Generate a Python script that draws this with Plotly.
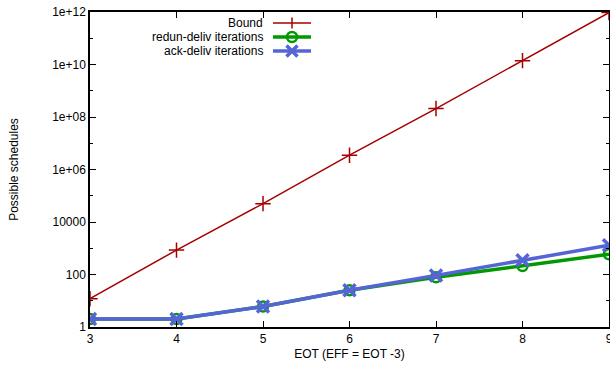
import plotly.graph_objects as go

eot = [3, 4, 5, 6, 7, 8, 9]
bound = [12, 850, 5.0e4, 3.5e6, 2.1e8, 1.4e10, 9.5e11]
redun = [2, 2, 6, 25, 78, 210, 590]
ack = [2, 2, 6, 25, 92, 350, 1300]

series_names = ["Bound", "redun-deliv iterations", "ack-deliv iterations"]
series_colors = ["#A50000", "#009A00", "#5565D5"]

y_tickvals = [1, 100, 1e4, 1e6, 1e8, 1e10, 1e12]
y_ticktext = ["1", "100", "10000", "1e+06", "1e+08", "1e+10", "1e+12"]
y_minor = [10, 1e3, 1e5, 1e7, 1e9, 1e11]
x_tickvals = [3, 4, 5, 6, 7, 8, 9]

font = "Liberation Sans, Arial, Helvetica, sans-serif"

W, H = 610, 368
ML, MR, MT, MB = 90, 1, 12, 41
PW, PH = W - ML - MR, H - MT - MB

def px(x):
    return (x - ML) / PW

def py(y):
    return (H - MB - y) / PH

fig = go.Figure()
fig.add_trace(go.Scatter(
    x=eot, y=bound, name=series_names[0], mode="lines+markers", showlegend=False,
    line=dict(color=series_colors[0], width=1.5),
    marker=dict(symbol="cross-thin", size=11, line=dict(color=series_colors[0], width=1.5)),
))
fig.add_trace(go.Scatter(
    x=eot, y=redun, name=series_names[1], mode="lines+markers", showlegend=False,
    line=dict(color=series_colors[1], width=3.5),
    marker=dict(symbol="circle-open", size=10, color=series_colors[1], line=dict(color=series_colors[1], width=2.5)),
))
fig.add_trace(go.Scatter(
    x=eot, y=ack, name=series_names[2], mode="lines+markers", showlegend=False,
    line=dict(color=series_colors[2], width=3.5),
    marker=dict(symbol="x-thin", size=12, line=dict(color=series_colors[2], width=3.5)),
))

# gnuplot-style legend: right-aligned text, sample to its right
rows_y = [23, 37, 51]
text_right = 265
samp_l, samp_r, samp_c = 273, 311, 292
shapes = []
annotations = []
for i, (nm, col, ry) in enumerate(zip(series_names, series_colors, rows_y)):
    lw = 1.5 if i == 0 else 3.5
    annotations.append(dict(
        x=px(text_right), y=py(ry), xref="paper", yref="paper",
        text=nm, showarrow=False, xanchor="right", yanchor="middle",
        font=dict(family=font, size=12, color="black"),
    ))
    shapes.append(dict(type="line", xref="paper", yref="paper",
                       x0=px(samp_l), x1=px(samp_r), y0=py(ry), y1=py(ry),
                       line=dict(color=col, width=lw)))
    if i == 0:
        r = 5.5
        shapes.append(dict(type="line", xref="paper", yref="paper",
                           x0=px(samp_c), x1=px(samp_c), y0=py(ry - r), y1=py(ry + r),
                           line=dict(color=col, width=1.5)))
    elif i == 1:
        r = 5
        shapes.append(dict(type="circle", xref="paper", yref="paper",
                           x0=px(samp_c - r), x1=px(samp_c + r), y0=py(ry - r), y1=py(ry + r),
                           line=dict(color=col, width=2.5)))
    else:
        r = 5.5
        shapes.append(dict(type="line", xref="paper", yref="paper",
                           x0=px(samp_c - r), x1=px(samp_c + r), y0=py(ry - r), y1=py(ry + r),
                           line=dict(color=col, width=3.5)))
        shapes.append(dict(type="line", xref="paper", yref="paper",
                           x0=px(samp_c - r), x1=px(samp_c + r), y0=py(ry + r), y1=py(ry - r),
                           line=dict(color=col, width=3.5)))

axis_common = dict(
    showline=True, linecolor="black", linewidth=1.5, mirror="ticks",
    ticks="inside", ticklen=6, tickwidth=1, tickcolor="black",
    showgrid=False, zeroline=False, automargin=False,
    ticklabeloverflow="allow",
    tickfont=dict(family=font, size=12, color="black"),
)

fig.update_xaxes(
    range=[3, 9], tickmode="array", tickvals=x_tickvals,
    title=dict(text="EOT (EFF = EOT -3)", font=dict(family=font, size=12, color="black"), standoff=4),
    **axis_common,
)
fig.update_yaxes(
    type="log", range=[0, 12], tickmode="array", tickvals=y_tickvals, ticktext=y_ticktext,
    minor=dict(tickmode="array", tickvals=y_minor, ticks="inside", ticklen=3, tickcolor="black", showgrid=False),
    title=dict(text="Possible schedules", font=dict(family=font, size=12, color="black"), standoff=31),
    **axis_common,
)

fig.update_layout(
    width=W, height=H,
    margin=dict(l=ML, r=MR, t=MT, b=MB),
    paper_bgcolor="white", plot_bgcolor="white",
    font=dict(family=font, size=12, color="black"),
    showlegend=False,
    shapes=shapes, annotations=annotations,
)

fig.write_html(
    "out.html",
    config={"displayModeBar": False},
    post_script="document.body.style.margin='0';document.body.style.overflow='hidden';",
)
